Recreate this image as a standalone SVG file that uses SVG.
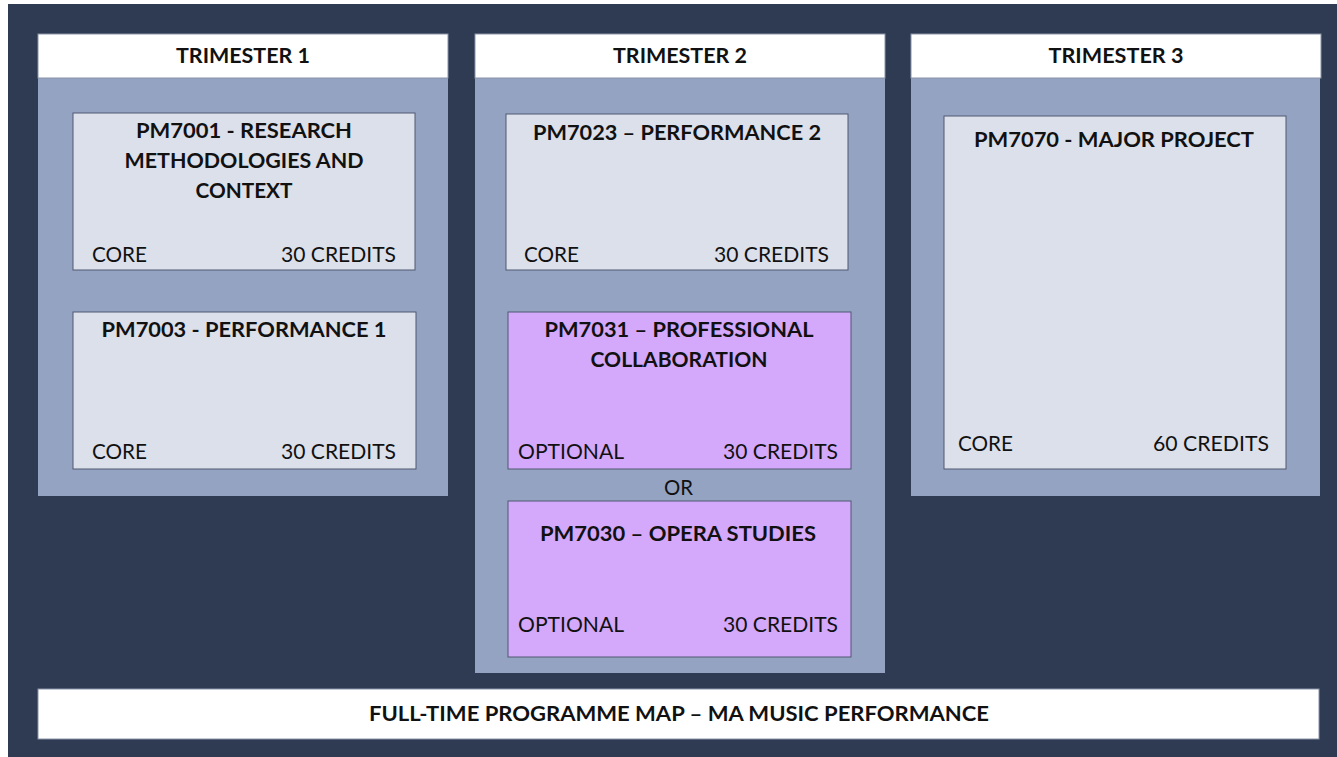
<svg xmlns="http://www.w3.org/2000/svg" width="1337" height="757" viewBox="0 0 1337 757">
<style>
.bg{fill:#2F3A53}
.hdr{fill:#FFFFFF;stroke:#8A93A8;stroke-width:1}
.panel{fill:#95A3C3}
.card{fill:#DCE0EA;stroke:#4E5870;stroke-width:1}
.opt{fill:#D4A9FC;stroke:#4E5870;stroke-width:1}
text{font-family:Lato,"Liberation Sans",sans-serif;fill:#111111}
.h{font-weight:bold;font-size:21px;text-anchor:middle}
.t{font-weight:bold;font-size:21px;text-anchor:middle}
.l{font-size:22px}
.r{font-size:22px;text-anchor:end}
.c{font-size:22px;text-anchor:middle}
</style>
<rect x="0" y="0" width="1337" height="757" fill="#FFFFFF"/>
<rect class="bg" x="8" y="4" width="1329" height="753"/>

<g id="trimester1">
<rect class="panel" x="38" y="78" width="410" height="418"/>
<rect class="hdr" x="38" y="34" width="410" height="44"/>
<text class="h" x="243" y="63" textLength="134" lengthAdjust="spacingAndGlyphs">TRIMESTER 1</text>
</g>
<g id="trimester2">
<rect class="panel" x="475" y="78" width="410" height="595"/>
<rect class="hdr" x="475" y="34" width="410" height="44"/>
<text class="h" x="680" y="63" textLength="134" lengthAdjust="spacingAndGlyphs">TRIMESTER 2</text>
</g>
<g id="trimester3">
<rect class="panel" x="911" y="78" width="409" height="418"/>
<rect class="hdr" x="911" y="34" width="410" height="44"/>
<text class="h" x="1116" y="63" textLength="135" lengthAdjust="spacingAndGlyphs">TRIMESTER 3</text>
</g>

<g id="pm7001">
<rect class="card" x="73" y="113" width="342" height="157"/>
<text class="t" x="244" y="138" textLength="216" lengthAdjust="spacingAndGlyphs">PM7001 - RESEARCH</text>
<text class="t" x="244" y="168" textLength="239" lengthAdjust="spacingAndGlyphs">METHODOLOGIES AND</text>
<text class="t" x="244" y="198" textLength="97" lengthAdjust="spacingAndGlyphs">CONTEXT</text>
<text class="l" x="92" y="262" textLength="55" lengthAdjust="spacingAndGlyphs">CORE</text>
<text class="r" x="396" y="262" textLength="115" lengthAdjust="spacingAndGlyphs">30 CREDITS</text>
</g>
<g id="pm7003">
<rect class="card" x="73" y="312" width="343" height="157"/>
<text class="t" x="244" y="337" textLength="285" lengthAdjust="spacingAndGlyphs">PM7003 - PERFORMANCE 1</text>
<text class="l" x="92" y="459" textLength="55" lengthAdjust="spacingAndGlyphs">CORE</text>
<text class="r" x="396" y="459" textLength="115" lengthAdjust="spacingAndGlyphs">30 CREDITS</text>
</g>

<g id="pm7023">
<rect class="card" x="506" y="114" width="342" height="156"/>
<text class="t" x="677" y="140" textLength="288" lengthAdjust="spacingAndGlyphs">PM7023 – PERFORMANCE 2</text>
<text class="l" x="524" y="262" textLength="55" lengthAdjust="spacingAndGlyphs">CORE</text>
<text class="r" x="829" y="262" textLength="115" lengthAdjust="spacingAndGlyphs">30 CREDITS</text>
</g>
<g id="pm7031">
<rect class="opt" x="508" y="312" width="343" height="157"/>
<text class="t" x="679" y="337" textLength="269" lengthAdjust="spacingAndGlyphs">PM7031 – PROFESSIONAL</text>
<text class="t" x="679" y="367" textLength="177" lengthAdjust="spacingAndGlyphs">COLLABORATION</text>
<text class="l" x="518" y="459" textLength="106" lengthAdjust="spacingAndGlyphs">OPTIONAL</text>
<text class="r" x="838" y="459" textLength="115" lengthAdjust="spacingAndGlyphs">30 CREDITS</text>
</g>
<g id="or">
<text class="c" x="678.5" y="495" textLength="29" lengthAdjust="spacingAndGlyphs">OR</text>
</g>
<g id="pm7030">
<rect class="opt" x="508" y="501" width="343" height="156"/>
<text class="t" x="678" y="541" textLength="276" lengthAdjust="spacingAndGlyphs">PM7030 – OPERA STUDIES</text>
<text class="l" x="518" y="632" textLength="106" lengthAdjust="spacingAndGlyphs">OPTIONAL</text>
<text class="r" x="838" y="632" textLength="115" lengthAdjust="spacingAndGlyphs">30 CREDITS</text>
</g>

<g id="pm7070">
<rect class="card" x="944" y="116" width="342" height="353"/>
<text class="t" x="1114" y="147" textLength="280" lengthAdjust="spacingAndGlyphs">PM7070 - MAJOR PROJECT</text>
<text class="l" x="958" y="451" textLength="55" lengthAdjust="spacingAndGlyphs">CORE</text>
<text class="r" x="1269" y="451" textLength="116" lengthAdjust="spacingAndGlyphs">60 CREDITS</text>
</g>

<g id="footer">
<rect class="hdr" x="38" y="689" width="1281" height="50"/>
<text class="h" x="679" y="721" textLength="620" lengthAdjust="spacingAndGlyphs">FULL-TIME PROGRAMME MAP – MA MUSIC PERFORMANCE</text>
</g>

<g id="connectors"></g>
</svg>
